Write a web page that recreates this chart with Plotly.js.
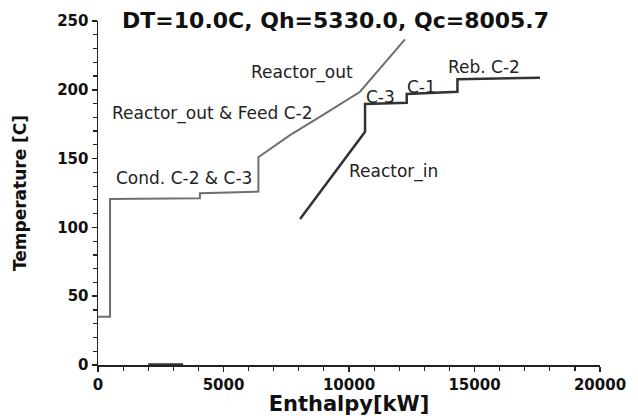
<!DOCTYPE html>
<html>
<head>
<meta charset="utf-8">
<script src="https://cdn.plot.ly/plotly-3.0.1.min.js"></script>
<style>html,body{margin:0;padding:0;background:#fff;}</style>
</head>
<body>
<div id="chart" style="width:638px;height:416px;"></div>
<script>
// Hot composite curve (Enthalpy kW, Temperature C)
const hotH = [0, 480, 480, 4060, 4060, 6390, 6390, 7650, 9000, 10440, 12230];
const hotT = [35, 35, 120.6, 121.1, 124.8, 126, 151, 167, 182.2, 198.6, 236.7];
// Cold composite curve
const coldH = [8050, 10640, 10640, 12300, 12300, 14320, 14320, 17610];
const coldT = [106.1, 169.5, 189.7, 190.6, 197, 198.6, 207.6, 208.8];
// Small segment near zero
const utilH = [2000, 3390];
const utilT = [0.6, 0.6];
// Labels
const labelText = ["Reactor_out", "Reactor_out & Feed C-2", "Cond. C-2 & C-3", "C-3", "C-1", "Reb. C-2", "Reactor_in"];
const labelH = [8110, 4560, 3410, 11270, 12870, 15380, 11790];
const labelT = [212.9, 183.1, 135.9, 195, 202, 216.6, 140.3];

const traces = [
  {x: hotH, y: hotT, mode: 'lines', line: {color: '#6f6f6f', width: 2}, hoverinfo: 'skip'},
  {x: coldH, y: coldT, mode: 'lines', line: {color: '#333333', width: 2.5}, hoverinfo: 'skip'},
  {x: utilH, y: utilT, mode: 'lines', line: {color: '#333333', width: 2}, hoverinfo: 'skip'}
];

const annotations = labelText.map((t, i) => ({
  text: t, x: labelH[i], y: labelT[i], xref: 'x', yref: 'y',
  showarrow: false, xanchor: 'center', yanchor: 'middle',
  font: {family: 'DejaVu Sans', size: 17, color: '#222'}
}));

const layout = {
  width: 638, height: 416,
  margin: {l: 98, r: 38, t: 21, b: 51, pad: 0},
  paper_bgcolor: '#fff', plot_bgcolor: '#fff',
  showlegend: false,
  title: {
    text: 'DT=10.0C, Qh=5330.0, Qc=8005.7',
    font: {family: 'DejaVu Sans', size: 22, color: '#111', weight: 'bold'},
    xref: 'paper', x: 0.048, xanchor: 'left',
    yref: 'container', y: 0.952, yanchor: 'middle'
  },
  xaxis: {
    range: [0, 20000], tick0: 0, dtick: 5000, tickformat: 'd',
    showgrid: false, zeroline: false, showline: true, linecolor: '#222', linewidth: 1.5,
    ticks: 'outside', ticklen: 5, tickcolor: '#222', tickwidth: 1.5,
    minor: {dtick: 1000, ticks: 'outside', ticklen: 4, tickcolor: '#222', tickwidth: 1.2, showgrid: false},
    tickfont: {family: 'DejaVu Sans', size: 15, color: '#111', weight: 'bold'},
    title: {text: 'Enthalpy[kW]', standoff: 1, font: {family: 'DejaVu Sans', size: 21, color: '#111', weight: 'bold'}},
    fixedrange: true
  },
  yaxis: {
    range: [0, 250], tick0: 0, dtick: 50, tickformat: 'd',
    showgrid: false, zeroline: false, showline: true, linecolor: '#222', linewidth: 1.5,
    ticks: 'outside', ticklen: 5, tickcolor: '#222', tickwidth: 1.5,
    minor: {dtick: 10, ticks: 'outside', ticklen: 4, tickcolor: '#222', tickwidth: 1.2, showgrid: false},
    tickfont: {family: 'DejaVu Sans', size: 15, color: '#111', weight: 'bold'},
    title: {text: 'Temperature [C]', standoff: 26, font: {family: 'DejaVu Sans', size: 17, color: '#111', weight: 'bold'}},
    fixedrange: true
  },
  annotations: annotations
};

Plotly.newPlot('chart', traces, layout, {displayModeBar: false, staticPlot: true});
</script>
</body>
</html>
